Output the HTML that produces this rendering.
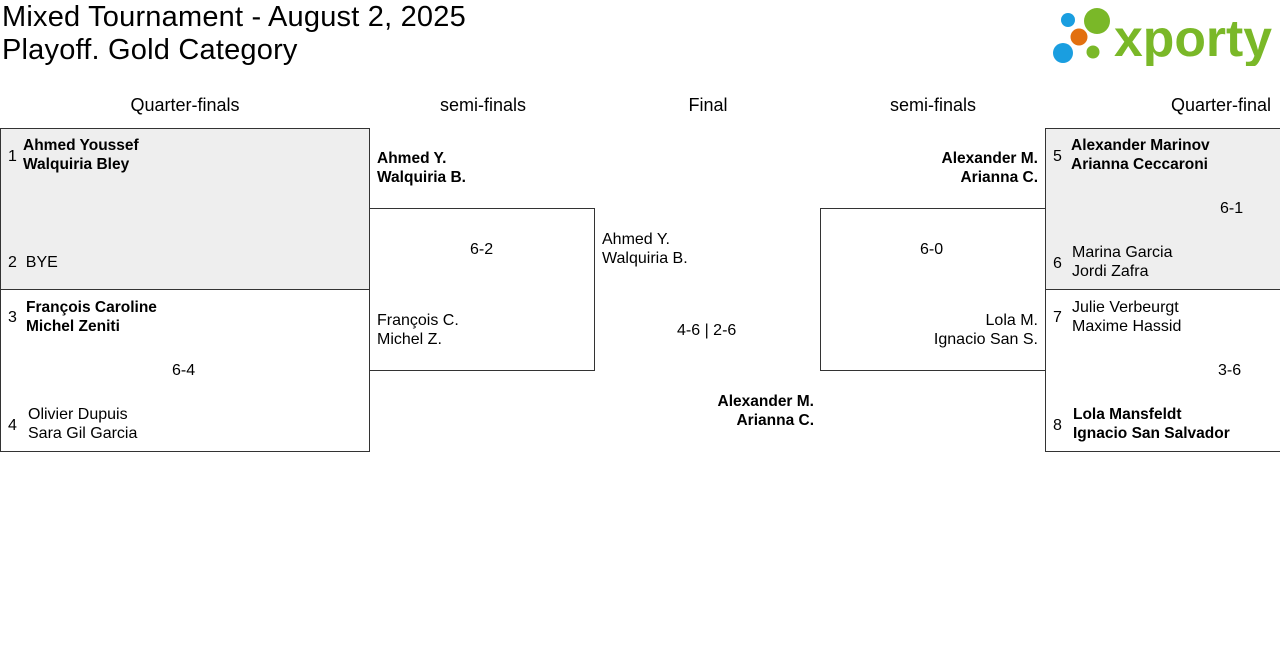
<!DOCTYPE html>
<html><head><meta charset="utf-8"><style>
body{margin:0;width:1280px;height:664px;background:#fff;position:relative;overflow:hidden;font-family:"Liberation Sans",sans-serif;color:#000}
div{position:absolute}
.t{font-size:16px;line-height:19px;white-space:nowrap}
.b{font-weight:bold;font-size:15.5px}
.h{font-size:18px;text-align:center}
.box{border:1px solid #333;box-sizing:border-box}
.g{background:#eeeeee}
.r{text-align:right}
</style></head><body>
<div style="left:2px;top:1px;font-size:29px;line-height:33px;letter-spacing:0.2px">Mixed Tournament - August 2, 2025<br>Playoff. Gold Category</div>
<svg style="position:absolute;left:1050px;top:4px" width="228" height="62">
<circle cx="18" cy="16" r="7" fill="#1a9ee0"/><circle cx="47" cy="17" r="13" fill="#7ab828"/>
<circle cx="29" cy="33" r="8.5" fill="#e2700f"/><circle cx="13" cy="49" r="10" fill="#1a9ee0"/>
<circle cx="43" cy="48" r="6.5" fill="#7ab828"/>
<text x="64" y="52" font-family="Liberation Sans" font-weight="bold" font-size="52" fill="#7ab828" textLength="158" lengthAdjust="spacingAndGlyphs">xporty</text></svg>
<div class="t h" style="left:85px;top:96px;width:200px">Quarter-finals</div>
<div class="t h" style="left:383px;top:96px;width:200px">semi-finals</div>
<div class="t h" style="left:608px;top:96px;width:200px">Final</div>
<div class="t h" style="left:833px;top:96px;width:200px">semi-finals</div>
<div class="t h" style="left:1171px;top:96px;width:200px;text-align:left">Quarter-final</div>
<div class="box g" style="left:0;top:128px;width:370px;height:162px"></div>
<div class="box" style="left:0;top:289px;width:370px;height:163px"></div>
<div class="t" style="left:8px;top:147px">1</div>
<div class="t b" style="left:23px;top:136px">Ahmed Youssef<br>Walquiria Bley</div>
<div class="t" style="left:8px;top:253px">2&nbsp;&nbsp;BYE</div>
<div class="t" style="left:8px;top:308px">3</div>
<div class="t b" style="left:26px;top:298px">François Caroline<br>Michel Zeniti</div>
<div class="t" style="left:172px;top:361px">6-4</div>
<div class="t" style="left:8px;top:416px">4</div>
<div class="t" style="left:28px;top:405px">Olivier Dupuis<br>Sara Gil Garcia</div>
<div class="t b" style="left:377px;top:149px">Ahmed Y.<br>Walquiria B.</div>
<div class="box" style="left:369px;top:208px;width:226px;height:163px"></div>
<div class="t" style="left:470px;top:240px">6-2</div>
<div class="t" style="left:377px;top:311px">François C.<br>Michel Z.</div>
<div class="t" style="left:602px;top:230px">Ahmed Y.<br>Walquiria B.</div>
<div class="t" style="left:677px;top:321px">4-6 | 2-6</div>
<div class="t b r" style="left:614px;top:392px;width:200px">Alexander M.<br>Arianna C.</div>
<div class="t b r" style="left:838px;top:149px;width:200px">Alexander M.<br>Arianna C.</div>
<div class="box" style="left:820px;top:208px;width:226px;height:163px"></div>
<div class="t" style="left:920px;top:240px">6-0</div>
<div class="t r" style="left:838px;top:311px;width:200px">Lola M.<br>Ignacio San S.</div>
<div class="box g" style="left:1045px;top:128px;width:240px;height:162px"></div>
<div class="box" style="left:1045px;top:289px;width:240px;height:163px"></div>
<div class="t" style="left:1053px;top:147px">5</div>
<div class="t b" style="left:1071px;top:136px">Alexander Marinov<br>Arianna Ceccaroni</div>
<div class="t" style="left:1220px;top:199px">6-1</div>
<div class="t" style="left:1053px;top:254px">6</div>
<div class="t" style="left:1072px;top:243px">Marina Garcia<br>Jordi Zafra</div>
<div class="t" style="left:1053px;top:308px">7</div>
<div class="t" style="left:1072px;top:298px">Julie Verbeurgt<br>Maxime Hassid</div>
<div class="t" style="left:1218px;top:361px">3-6</div>
<div class="t" style="left:1053px;top:416px">8</div>
<div class="t b" style="left:1073px;top:405px">Lola Mansfeldt<br>Ignacio San Salvador</div>
</body></html>
